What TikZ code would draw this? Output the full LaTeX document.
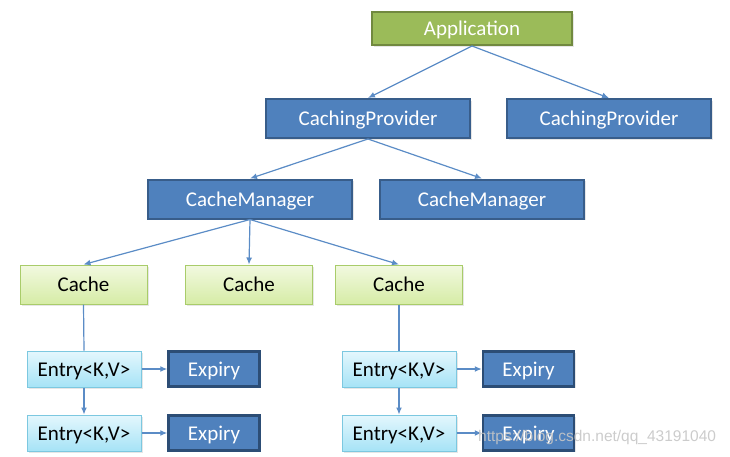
\documentclass[tikz,border=0pt]{standalone}
\usepackage{fontspec}
\setmainfont{Carlito}
\newfontfamily\markfont{Liberation Sans}
\usetikzlibrary{arrows.meta,shadows}

\definecolor{appgreen}{HTML}{9BBB59}
\definecolor{appborder}{HTML}{71893F}
\definecolor{provblue}{HTML}{4F81BD}
\definecolor{provborder}{HTML}{385D8A}
\definecolor{expborder}{HTML}{2C4D75}
\definecolor{cachetop}{HTML}{F2F9E0}
\definecolor{cachebot}{HTML}{D6ECA6}
\definecolor{cacheborder}{HTML}{A9CC6A}
\definecolor{entrytop}{HTML}{E4F7FD}
\definecolor{entrybot}{HTML}{A6E3F6}
\definecolor{entryborder}{HTML}{7CC8E0}
\definecolor{linkblue}{HTML}{5B8CC6}

\tikzset{
  box/.style={shape=rectangle, inner sep=0pt, font=\fontsize{21}{25}\selectfont,
    text height=15pt, text depth=1pt,
    drop shadow={opacity=0.2, shadow xshift=1.5pt, shadow yshift=-1.5pt}},
  appbox/.style={box, draw=appborder, line width=2pt, fill=appgreen, text=white,
    minimum width=200pt, minimum height=33pt},
  provbox/.style={box, draw=provborder, line width=2pt, fill=provblue, text=white,
    minimum width=204pt, minimum height=39pt},
  cachebox/.style={box, draw=cacheborder, line width=1pt, top color=cachetop,
    bottom color=cachebot, text=black, minimum width=127pt, minimum height=39pt},
  entrybox/.style={box, draw=entryborder, line width=1pt, top color=entrytop,
    bottom color=entrybot, text=black, minimum width=114pt, minimum height=36pt},
  expbox/.style={box, draw=expborder, line width=2.5pt, fill=provblue, text=white,
    minimum width=91pt, minimum height=35pt},
  link/.style={draw=linkblue, line width=1.2pt},
  arr/.style={link, -{Latex[length=7pt,width=6pt]}}
}

\begin{document}
\begin{tikzpicture}[x=1pt,y=-1pt]
  \useasboundingbox (0,0) rectangle (730,456);
  \node[appbox] (app) at (472,28.5) {Application};
  \node[provbox] (cp1) at (368,118.5) {CachingProvider};
  \node[provbox] (cp2) at (609,118.5) {CachingProvider};
  \node[provbox] (cm1) at (250,199) {CacheManager};
  \node[provbox] (cm2) at (482,199) {CacheManager};
  \node[cachebox] (c1) at (83.5,284.5) {Cache};
  \node[cachebox] (c2) at (249,284.5) {Cache};
  \node[cachebox] (c3) at (399,284.5) {Cache};
  \node[entrybox] (e1) at (84,369) {Entry<K,V>};
  \node[entrybox] (e2) at (84,433) {Entry<K,V>};
  \node[entrybox] (e3) at (399,369) {Entry<K,V>};
  \node[entrybox] (e4) at (399,433) {Entry<K,V>};
  \node[expbox] (x1) at (214,369) {Expiry};
  \node[expbox] (x2) at (214,433) {Expiry};
  \node[expbox] (x3) at (528.5,369) {Expiry};
  \node[expbox] (x4) at (528.5,433) {Expiry};
  % tree
  \draw[arr] (app.south) -- (cp1.north);
  \draw[arr] (app.south) -- (cp2.north);
  \draw[arr] (cp1.south) -- (cm1.north);
  \draw[arr] (cp1.south) -- (cm2.north);
  \draw[arr] (cm1.south) -- (c1.north);
  \draw[arr] (cm1.south) -- (c2.north);
  \draw[arr] (cm1.south) -- (c3.north);
  % entries
  \draw[link] (c1.south) -- (e1.north);
  \draw[link] (c3.south) -- (e3.north);
  \draw[arr] (e1.south) -- (e2.north);
  \draw[arr] (e3.south) -- (e4.north);
  \draw[arr] (e1.east) -- (x1.west);
  \draw[arr] (e2.east) -- (x2.west);
  \draw[arr] (e3.east) -- (x3.west);
  \draw[arr] (e4.east) -- (x4.west);
  \node[font=\markfont\fontsize{15.5}{18}\selectfont, text=gray!45, opacity=0.9,
    anchor=west, inner sep=0pt] (mark) at (478,437) {https://blog.csdn.net/qq\_43191040};
\end{tikzpicture}
\end{document}
